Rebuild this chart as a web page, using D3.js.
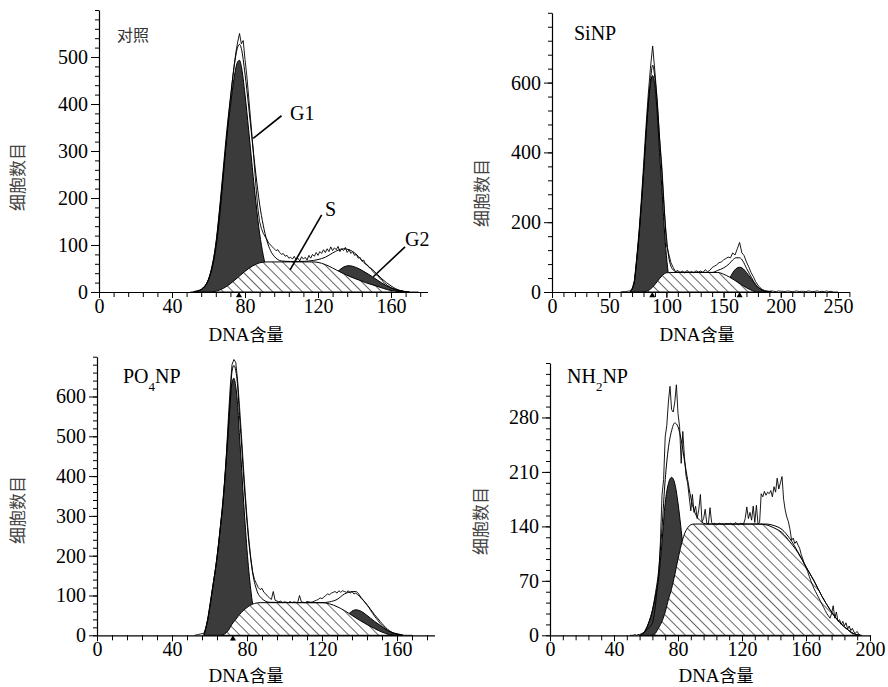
<!DOCTYPE html>
<html>
<head>
<meta charset="utf-8">
<script src="https://cdn.jsdelivr.net/npm/d3@7"></script>
<style>
  body { margin: 0; background: #fff; }
  .axis text { font-family: "Liberation Serif", "Times New Roman", serif; font-size: 20px; fill: #000; }
  .axis line, .axis path { stroke: #000; }
</style>
</head>
<body>
<svg id="chart" width="888" height="687"></svg>
<script>
// ---------- 对照
const ctrlG1 = [[52,0],[55,3],[58,12],[60,27],[62,55],[64,100],[66,170],[68,250],[70,330],[72,395],[74,455],[76,490],[77,493],[78,480],[80,420],[82,345],[84,265],[86,190],[88,125],[90,78],[92,45],[94,24],[96,12],[98,5],[102,0]];
const ctrlS = [[62,0],[66,4],[70,12],[74,24],[77,34],[80,44],[84,55],[88,62],[92,64],[118,64],[122,61],[126,55],[130,47],[134,39],[138,32],[142,26],[146,20],[150,15],[154,10],[158,5],[162,2],[166,0]];
const ctrlG2 = [[116,0],[120,6],[124,16],[128,32],[131,44],[134,53],[137,56],[141,52],[145,44],[150,32],[155,19],[160,9],[165,3],[170,0]];
const ctrlFit = [[52,0],[55,3],[58,12],[60,27],[62,56],[64,102],[66,174],[68,258],[70,342],[72,413],[74,479],[76,521],[77,527],[78,518],[80,464],[82,395],[84,320],[86,249],[88,187],[90,142],[92,109],[94,88],[96,76],[98,69],[100,66],[105,65],[110,65],[115,66],[120,69],[124,74],[128,83],[131,89],[134,92],[137,90],[141,80],[145,63],[150,47],[155,28],[160,13],[165,3],[170,0]];
const ctrlRawStart = 50;
const ctrlRaw = [0,0,1,2,3,4,6,9,13,18,26,36,50,68,92,120,155,195,240,285,330,372,410,445,480,510,532,550,528,535,495,460,415,370,325,275,225,180,150,135,125,118,112,104,100,96,92,88,90,84,80,82,76,78,72,74,70,76,68,72,66,75,70,74,68,78,72,80,76,84,78,86,82,90,84,92,86,96,88,94,90,97,86,92,88,95,84,90,82,86,78,80,72,74,66,68,60,58,52,50,44,40,36,34,28,26,20,18,14,12,9,7,6,4,3,3,2,1,1,0,0,0,0,0,0,0];
const ctrlMarks = [76.7];
const ctrlXTicks = [0, 40, 80, 120, 160];
const ctrlYTicks = [0, 100, 200, 300, 400, 500];

// ---------- SiNP
const siG1 = [[68,0],[70,8],[72,30],[74,90],[76,160],[78,245],[80,340],[82,440],[84,530],[86,595],[88,620],[90,590],[92,510],[94,400],[96,300],[98,190],[100,105],[102,45],[104,18],[106,7],[110,0]];
const siS = [[80,0],[84,4],[88,14],[92,30],[96,46],[100,55],[104,56],[145,56],[150,51],[155,43],[160,33],[165,22],[170,12],[175,4],[178,0]];
const siG2 = [[140,0],[145,6],[150,18],[155,38],[158,55],[161,67],[164,71],[167,67],[170,56],[173,43],[176,29],[180,14],[184,5],[188,1],[192,0]];
const siFit = [[68,0],[70,8],[72,30],[74,90],[76,160],[78,245],[80,340],[82,442],[84,534],[86,604],[88,650],[90,612],[92,540],[94,438],[96,346],[98,240],[100,160],[102,101],[104,74],[106,63],[110,57],[140,56],[145,62],[150,69],[155,81],[158,92],[161,98],[164,98],[167,88],[170,68],[173,50],[176,32],[180,14],[184,5],[188,1],[192,0]];
const siRawStart = 60;
const siRaw = [0,1,1,2,3,9,32,95,170,260,360,465,560,640,705,630,550,445,360,250,135,110,84,70,58,62,55,60,54,62,56,58,55,61,57,60,56,64,58,62,70,74,78,84,86,92,96,100,98,112,106,124,142,112,104,86,72,56,44,30,20,12,7,4,3,2,3,2,1,3,2,2,1,3,2,1,2,3,1,2,2,1,3,2,1,2,3,1,2,1,3,1,2,0,0,0];
const siMarks = [87.7, 164];
const siXTicks = [0, 50, 100, 150, 200, 250];
const siYTicks = [0, 200, 400, 600];

// ---------- PO4NP
const poG1 = [[57,0],[59,38],[62,130],[64,195],[66,280],[67,323],[68,380],[70,510],[71,580],[72,635],[73,646],[74,625],[75,580],[76,500],[77,430],[78,350],[79,280],[80,215],[81,160],[82,115],[83,78],[85,35],[88,10],[92,0]];
const poS = [[66,0],[68,3],[70,12],[72,28],[74,40],[76,52],[78,62],[80,70],[82,76],[84,80],[87,82],[120,82],[124,79],[128,72],[132,62],[136,50],[140,38],[144,27],[148,17],[152,8],[156,2],[158,0]];
const poG2 = [[120,0],[124,5],[128,18],[132,42],[135,57],[138,64],[141,60],[144,50],[148,35],[151,25],[155,12],[159,4],[163,0]];
const poFit = [[57,0],[59,38],[62,130],[64,195],[66,280],[67,325],[68,383],[70,522],[71,595],[72,663],[73,678],[74,665],[75,626],[76,552],[77,487],[78,412],[79,346],[80,285],[81,233],[82,191],[83,157],[85,116],[88,92],[92,83],[120,82],[124,84],[128,90],[132,104],[135,109],[138,110],[141,94],[144,77],[148,52],[151,35],[155,15],[159,4],[163,0]];
const poRawStart = 52;
const poRaw = [0,1,2,3,4,5,18,40,70,100,130,160,198,238,282,330,385,455,540,620,680,693,686,640,575,505,430,360,295,240,195,160,140,130,120,115,118,108,104,98,94,90,110,88,86,84,86,82,84,83,82,85,82,84,83,82,100,84,83,82,85,84,83,84,86,88,90,94,92,96,100,104,102,106,108,110,106,112,108,112,110,108,112,106,110,104,106,102,98,92,88,82,76,70,62,55,48,42,36,30,25,20,16,12,10,8,6,5,4,3,2,1,0,0,0,0,0];
const poMarks = [72.5];
const poXTicks = [0, 40, 80, 120, 160];
const poYTicks = [0, 100, 200, 300, 400, 500, 600];

// ---------- NH2NP
const nhG1 = [[56,0],[58,2],[60,8],[62,18],[64,32],[66,52],[68,75],[70,120],[72,170],[74,195],[76,203],[78,195],[80,170],[82,135],[84,95],[86,62],[88,35],[90,18],[94,4],[98,0]];
const nhS = [[64,0],[66,3],[68,10],[70,18],[72,30],[74,46],[76,60],[78,78],[80,98],[82,116],[84,130],[86,138],[88,142],[90,143],[130,143],[135,142],[140,138],[145,132],[150,120],[155,106],[160,88],[165,70],[170,50],[175,33],[180,19],[185,9],[190,2],[194,0]];
const nhG2 = [];
const nhFit = [[56,0],[58,2],[60,8],[62,18],[64,32],[66,55],[68,85],[70,138],[72,200],[74,241],[76,263],[78,273],[80,268],[82,251],[84,225],[86,200],[88,177],[90,161],[94,147],[98,143],[130,143],[135,143],[140,141],[145,136],[150,124],[155,107],[160,88],[165,70],[170,50],[175,33],[180,19],[185,9],[190,2],[194,0]];
const nhRawStart = 50;
const nhRaw = [0,0,0,1,0,1,1,2,3,4,6,8,10,12,15,25,40,60,80,120,180,200,255,270,300,320,290,287,300,322,285,268,221,262,230,205,196,178,160,181,158,166,150,162,181,146,150,162,144,143,164,145,143,144,142,143,144,143,143,142,144,143,143,144,142,143,145,143,142,144,143,143,150,165,150,158,148,166,145,167,143,145,182,178,185,180,184,182,186,178,191,184,202,188,196,204,175,161,152,146,136,122,125,118,121,116,112,104,98,92,87,82,76,70,65,60,56,52,48,44,40,36,32,28,25,22,28,38,22,30,18,20,14,18,12,16,8,12,6,9,4,3,5,1,0,0];
const nhMarks = [];
const nhXTicks = [0, 40, 80, 120, 160, 200];
const nhYTicks = [0, 70, 140, 210, 280];

class HistPanel {

    constructor(_config, _data) {
        this.config = _config;
        this.data = _data;
        this.svg = d3.select('#chart');
        this.initVis();
        this.renderVis();
    }

    initVis() {
        let vis = this;
        let c = vis.config;
        vis.xScale = d3.scaleLinear().domain([0, c.xMax]).range([c.left, c.right]);
        vis.yScale = d3.scaleLinear().domain([0, c.yMax]).range([c.bottom, c.top]);
        vis.g = vis.svg.append('g');
        vis.area = d3.area()
            .x((d) => vis.xScale(d[0]))
            .y0(vis.yScale(0))
            .y1((d) => vis.yScale(d[1]))
            .curve(d3.curveMonotoneX);
        vis.line = d3.line()
            .x((d) => vis.xScale(d[0]))
            .y((d) => vis.yScale(d[1]))
            .curve(d3.curveMonotoneX);
        vis.rawLine = d3.line()
            .x((d) => vis.xScale(d[0]))
            .y((d) => vis.yScale(d[1]));
    }

    renderVis() {
        let vis = this;
        let c = vis.config;
        let d = vis.data;
        // G1 and G2 peaks
        [d.g1, d.g2].forEach((pk) => {
            if (!pk.length) return;
            vis.g.append('path').datum(pk)
                .attr('d', vis.area)
                .attr('fill', '#3b3b3b')
                .attr('stroke', '#000')
                .attr('stroke-width', 1);
        });
        // S phase, hatched on white
        vis.g.append('path').datum(d.s).attr('d', vis.area).attr('fill', '#fff');
        vis.g.append('path').datum(d.s)
            .attr('d', vis.area)
            .attr('fill', 'url(#hatch)')
            .attr('stroke', '#000')
            .attr('stroke-width', 1);
        // fitted curve
        vis.g.append('path').datum(d.fit)
            .attr('d', vis.line)
            .attr('fill', 'none')
            .attr('stroke', '#000')
            .attr('stroke-width', 1);
        // raw histogram
        const raw = d.raw.map((v, i) => [d.rawStart + i * d.rawStep, v]);
        vis.g.append('path').datum(raw)
            .attr('d', vis.rawLine)
            .attr('fill', 'none')
            .attr('stroke', '#000')
            .attr('stroke-width', 0.9);

        // axes
        const xMinor = d3.range(0, c.xMax + 0.01, c.xMinor);
        const yMinor = d3.range(0, c.yMax + 0.01, c.yMinor);
        vis.g.append('g').attr('class', 'axis')
            .attr('transform', `translate(0, ${c.bottom})`)
            .call(d3.axisBottom(vis.xScale).tickValues(xMinor).tickSize(5).tickFormat('').tickSizeOuter(0))
            .select('.domain').remove();
        vis.g.append('g').attr('class', 'axis')
            .attr('transform', `translate(${c.left}, 0)`)
            .call(d3.axisLeft(vis.yScale).tickValues(yMinor).tickSize(4).tickFormat('').tickSizeOuter(0))
            .select('.domain').remove();
        vis.g.append('g').attr('class', 'axis')
            .attr('transform', `translate(0, ${c.bottom})`)
            .call(d3.axisBottom(vis.xScale).tickValues(d.xTicks).tickSize(6).tickPadding(1).tickSizeOuter(0))
            .select('.domain').attr('stroke-width', 1.2);
        vis.g.append('g').attr('class', 'axis')
            .attr('transform', `translate(${c.left}, 0)`)
            .call(d3.axisLeft(vis.yScale).tickValues(d.yTicks).tickSize(8).tickPadding(3).tickSizeOuter(0))
            .select('.domain').attr('stroke-width', 1.2);

        // peak markers under the axis
        vis.g.selectAll('.mark').data(d.marks).enter()
            .append('path')
            .attr('class', 'mark')
            .attr('d', d3.symbol().type(d3.symbolTriangle).size(16))
            .attr('transform', (m) => `translate(${vis.xScale(m)}, ${c.bottom + 3.5})`)
            .attr('fill', '#000');

        // axis titles
        const xt = vis.g.append('text')
            .attr('x', c.xTitle[0]).attr('y', c.xTitle[1])
            .attr('text-anchor', 'middle')
            .style('font-family', '"Liberation Serif", serif')
            .style('font-size', '19px');
        xt.append('tspan').text('DNA');
        xt.append('tspan').style('font-family', '"Noto Sans CJK SC", sans-serif').style('font-size', '17px').text('含量');
        vis.g.append('text')
            .attr('transform', `translate(${c.yTitle[0]}, ${c.yTitle[1]}) rotate(-90)`)
            .attr('text-anchor', 'middle')
            .attr('dy', '0.35em')
            .style('font-family', '"Noto Sans CJK SC", sans-serif')
            .style('font-size', '17px')
            .style('fill', '#444')
            .text('细胞数目');

        // panel name
        const t = vis.g.append('text')
            .attr('x', c.name[0]).attr('y', c.name[1])
            .style('font-family', c.nameCjk ? '"Noto Sans CJK SC", sans-serif' : '"Liberation Serif", serif')
            .style('font-size', c.nameCjk ? '16px' : '20px')
            .style('fill', c.nameCjk ? '#333' : '#000');
        d.title.forEach((p) => {
            const ts = t.append('tspan').text(p[0]);
            if (p[1]) ts.attr('baseline-shift', 'sub').style('font-size', '13px');
        });

        // phase labels with pointers
        (c.notes || []).forEach((n) => {
            vis.g.append('line')
                .attr('x1', vis.xScale(n.from[0])).attr('y1', vis.yScale(n.from[1]))
                .attr('x2', vis.xScale(n.to[0])).attr('y2', vis.yScale(n.to[1]))
                .attr('stroke', '#000').attr('stroke-width', 1.6);
            vis.g.append('text')
                .attr('x', vis.xScale(n.at[0])).attr('y', vis.yScale(n.at[1]))
                .style('font-family', '"Liberation Serif", serif')
                .style('font-size', '20px')
                .text(n.text);
        });
    }
}

// hatch pattern for S phase
const defs = d3.select('#chart').append('defs');
defs.append('pattern')
    .attr('id', 'hatch')
    .attr('patternUnits', 'userSpaceOnUse')
    .attr('width', 7).attr('height', 7)
    .attr('patternTransform', 'rotate(-45)')
    .append('line')
    .attr('x1', 0).attr('y1', 0).attr('x2', 0).attr('y2', 7)
    .attr('stroke', '#000').attr('stroke-width', 1.2);

new HistPanel(
    {left: 99, right: 427.5, top: 10, bottom: 292, xMax: 180, yMax: 600, xMinor: 8, yMinor: 20,
     xTitle: [246, 341], yTitle: [18, 177], name: [117, 41], nameCjk: true,
     notes: [
        {text: 'G1', at: [104.7, 366], from: [100, 375], to: [84.5, 327]},
        {text: 'S', at: [123.8, 162], from: [122, 164], to: [104.7, 47]},
        {text: 'G2', at: [167.7, 98], from: [167.7, 96], to: [150.3, 32.5]}
     ]},
    {g1: ctrlG1, s: ctrlS, g2: ctrlG2, fit: ctrlFit, raw: ctrlRaw, rawStart: ctrlRawStart, rawStep: 1,
     marks: ctrlMarks, xTicks: ctrlXTicks, yTicks: ctrlYTicks, title: [['对照', 0]]});

new HistPanel(
    {left: 552, right: 849.4, top: 12.8, bottom: 292, xMax: 260, yMax: 800, xMinor: 10, yMinor: 40,
     xTitle: [697, 341], yTitle: [482, 193], name: [574, 40]},
    {g1: siG1, s: siS, g2: siG2, fit: siFit, raw: siRaw, rawStart: siRawStart, rawStep: 2,
     marks: siMarks, xTicks: siXTicks, yTicks: siYTicks, title: [['SiNP', 0]]});

new HistPanel(
    {left: 97, right: 434.5, top: 356.7, bottom: 635.3, xMax: 180, yMax: 700, xMinor: 8, yMinor: 20,
     xTitle: [246, 682], yTitle: [18, 510], name: [123, 383]},
    {g1: poG1, s: poS, g2: poG2, fit: poFit, raw: poRaw, rawStart: poRawStart, rawStep: 1,
     marks: poMarks, xTicks: poXTicks, yTicks: poYTicks, title: [['PO', 0], ['4', 1], ['NP', 0]]});

new HistPanel(
    {left: 550, right: 870, top: 363, bottom: 635.3, xMax: 200, yMax: 350, xMinor: 8, yMinor: 14,
     xTitle: [716, 682], yTitle: [481, 521], name: [567, 383]},
    {g1: nhG1, s: nhS, g2: nhG2, fit: nhFit, raw: nhRaw, rawStart: nhRawStart, rawStep: 1,
     marks: nhMarks, xTicks: nhXTicks, yTicks: nhYTicks, title: [['NH', 0], ['2', 1], ['NP', 0]]});
</script>
</body>
</html>
